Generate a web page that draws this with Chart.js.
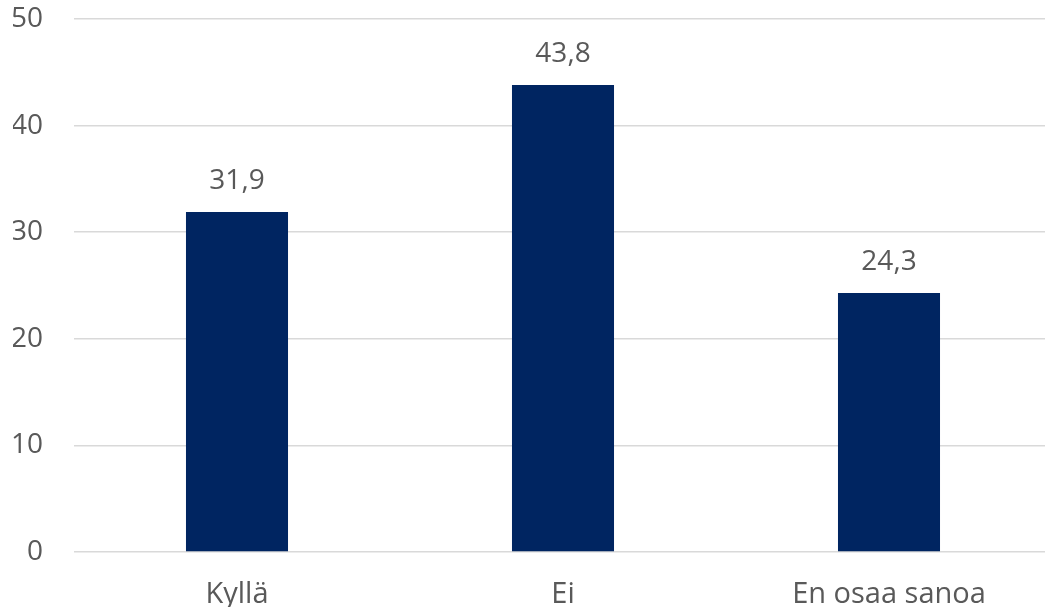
<!DOCTYPE html>
<html>
<head>
<meta charset="utf-8">
<script src="https://cdn.jsdelivr.net/npm/chart.js@4"></script>
<style>
  html, body { margin: 0; padding: 0; background: #fff; overflow: hidden; }
  #wrap { width: 1052px; height: 607px; }
</style>
</head>
<body>
<div id="wrap"><canvas id="chart"></canvas></div>
<script>

const categories = ["Kyllä", "Ei", "En osaa sanoa"];
const values = [31.9, 43.8, 24.3];
const yTicks = [0, 10, 20, 30, 40, 50];

const textColor = "#595959";
const fontFamily = "'Open Sans', sans-serif";

// labels above the bars, with decimal comma
const valueLabels = {
    id: "valueLabels",
    afterDatasetsDraw(chart) {
        const c = chart.ctx;
        const meta = chart.getDatasetMeta(0);
        c.save();
        c.fillStyle = textColor;
        c.font = "28px " + fontFamily;
        c.textAlign = "center";
        c.textBaseline = "middle";
        meta.data.forEach((bar, i) => {
            c.fillText(values[i].toFixed(1).replace(".", ","), bar.x, bar.y - 31);
        });
        c.restore();
    }
};

const ctx = document.getElementById("chart").getContext("2d");

new Chart(ctx, {
    type: "bar",
    data: {
        labels: categories,
        datasets: [{
            data: values,
            backgroundColor: "#002561",
            categoryPercentage: 1,
            barPercentage: 0.313
        }]
    },
    options: {
        responsive: true,
        maintainAspectRatio: false,
        animation: false,
        layout: { padding: { left: 13, top: 19, right: 0, bottom: 0 } },
        plugins: {
            legend: { display: false },
            tooltip: { enabled: false }
        },
        scales: {
            x: {
                grid: { display: false, drawTicks: false },
                border: { display: false },
                afterFit: axis => { axis.height = 55; },
                ticks: {
                    color: textColor,
                    font: { family: fontFamily, size: 29 },
                    padding: 25
                }
            },
            y: {
                min: 0,
                max: 50,
                afterBuildTicks: axis => {
                    axis.ticks = yTicks.map(v => ({ value: v }));
                },
                afterFit: axis => {
                    axis.width = 61;
                    axis.paddingTop = 0;
                    axis.paddingBottom = 0;
                },
                grid: { color: "#d9d9d9", lineWidth: 1.5, drawTicks: false },
                border: { display: false },
                ticks: {
                    color: textColor,
                    font: { family: fontFamily, size: 28 },
                    padding: 31
                }
            }
        }
    },
    plugins: [valueLabels]
});

</script>
</body>
</html>
